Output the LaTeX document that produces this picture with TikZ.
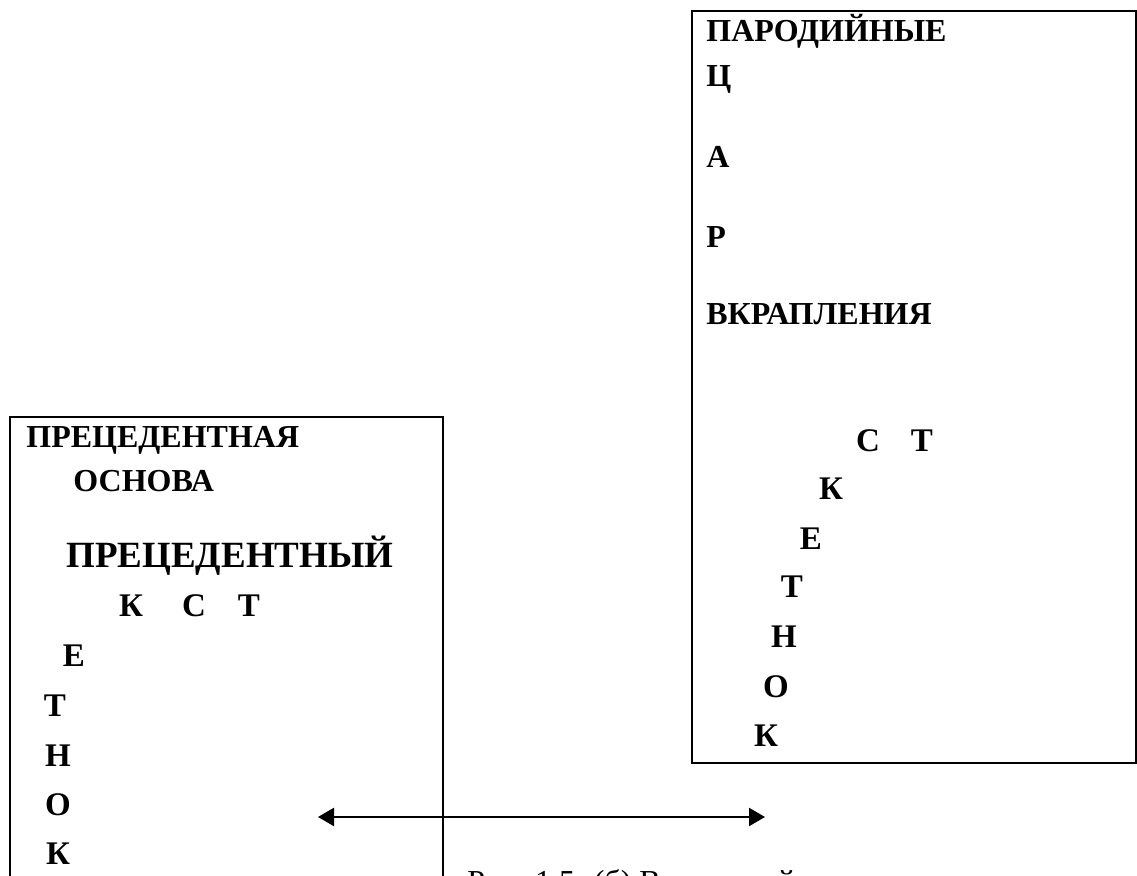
\documentclass[tikz,border=0pt]{standalone}
\usepackage{fontspec}
\setmainfont{Liberation Serif}
\usetikzlibrary{arrows.meta}

\begin{document}
\begin{tikzpicture}
[x=0.5pt,y=-0.5pt,
 frame/.style={line width=1pt},
 head/.style={anchor=base west,inner sep=0pt,font=\fontsize{16}{19}\selectfont\bfseries},
 big/.style={anchor=base west,inner sep=0pt,font=\fontsize{18.5}{22}\selectfont\bfseries},
 letter/.style={anchor=base,inner sep=0pt,font=\fontsize{16.5}{20}\selectfont\bfseries},
 every edge/.append style={line width=1.1pt,{Triangle[length=8pt,width=9pt]}-{Triangle[length=8pt,width=9pt]}},
]
\useasboundingbox (0,0) rectangle (1137,876);
\clip (0,0) rectangle (1137,876);

\draw[frame] (10,417) rectangle (443,900);
\draw[frame] (692,11) rectangle (1136,763);

% left frame
\node[head] (lh1) at (26,448) {ПРЕЦЕДЕНТНАЯ};
\node[head] (lh2) at (73,492) {ОСНОВА};
\node[big] (lw) at (66,568) {ПРЕЦЕДЕНТНЫЙ};
\foreach \ch/\x/\y [count=\i] in {К/131/617,С/194/617,Т/249/617,Е/74/667,Т/55/717,Н/58/767,О/58/816,К/58/865}
{
{\node[letter] (l\i) at (\x,\y) {\ch};}
}

% right frame
\node[head] (rh1) at (706,42) {ПАРОДИЙНЫЕ};
\foreach \ch/\y [count=\i] in {Ц/87,А/168,Р/248}
{
{\node[head] (rc\i) at (706,\y) {\ch};}
}
\node[head] (rh2) at (706,325) {ВКРАПЛЕНИЯ};
\foreach \ch/\x/\y [count=\i] in {С/868/452,Т/922/452,К/831/500,Е/811/550,Т/792/598,Н/784/648,О/776/698,К/766/747}
{
{\node[letter] (r\i) at (\x,\y) {\ch};}
}

\coordinate (al) at (318,817);
\coordinate (ar) at (765,817);
\draw (al) edge (ar);

\node[anchor=base west,inner sep=0pt,font=\fontsize{16}{19}\selectfont] (cap) at (467,893) {Рис. 1.5. (б) Вторичный};
\end{tikzpicture}
\end{document}
